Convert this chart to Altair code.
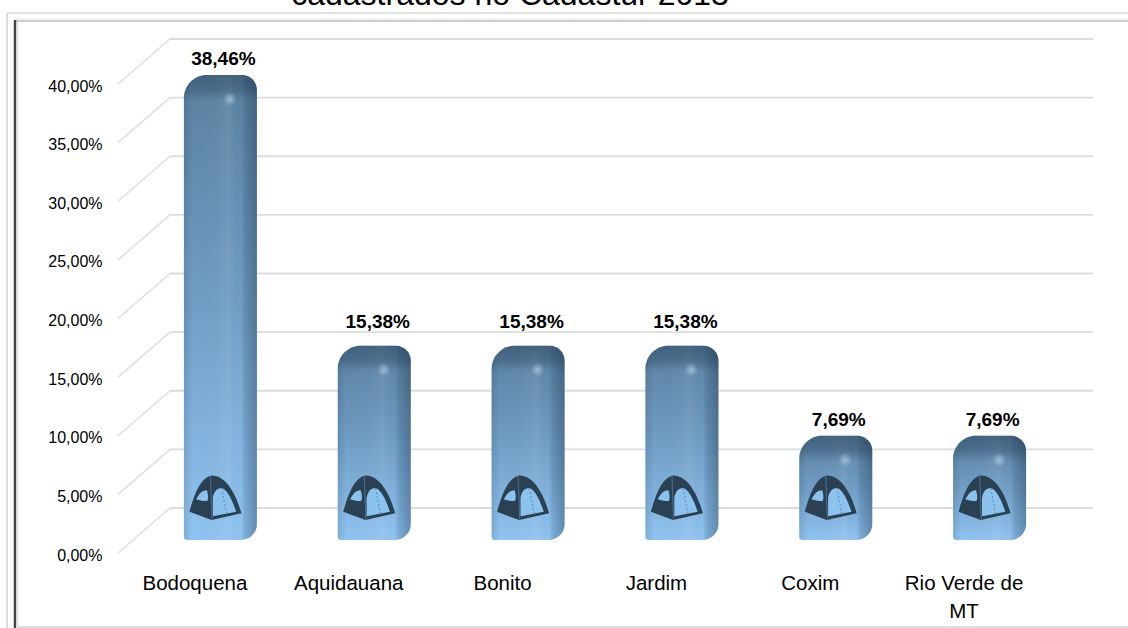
import altair as alt
import pandas as pd

# Municipalities and their share of registered campsites
cities = ["Bodoquena", "Aquidauana", "Bonito", "Jardim", "Coxim", "Rio Verde de MT"]
shares = [38.46, 15.38, 15.38, 15.38, 7.69, 7.69]
ticks = [0, 5, 10, 15, 20, 25, 30, 35, 40]
title_text = "cadastrados no Cadastur 2013"

W, H = 1128, 628
FONT = "Liberation Sans"

bars = pd.DataFrame({"city": cities, "pct": shares, "base": [0] * len(cities)})
grid = pd.DataFrame({"tick": ticks})

x_enc = alt.X(
    "city:N",
    sort=cities,
    scale=alt.Scale(type="band", domain=cities, range=[118, 1041], padding=0),
    axis=alt.Axis(
        title=None, orient="bottom", offset=-55, labelAngle=0, domain=False, ticks=False,
        labelFont=FONT, labelFontSize=20.5, labelColor="#000000", labelPadding=0,
        labelBaseline="top", labelAlign="center", labelLimit=200, labelLineHeight=28,
        labelExpr="datum.value == 'Rio Verde de MT' ? ['Rio Verde de', 'MT'] : datum.label",
    ),
)
y_scale = alt.Scale(domain=[0, 40], range=[553, 84], nice=False, zero=False)
y_axis = alt.Axis(
    title=None, values=ticks, orient="left", offset=-102, domain=False, ticks=False,
    grid=False, labelFont=FONT, labelFontSize=16, labelColor="#000000", labelPadding=0,
    labelOffset=2, labelFlush=False, labelOverlap=False,
    labelExpr="replace(format(datum.value, '.2f'), '.', ',') + '%'",
)
y_plain = alt.Y("pct:Q", scale=y_scale, title=None)


def vgrad(stops):
    return alt.LinearGradient(
        gradient="linear", x1=0, x2=0, y1=0, y2=1,
        stops=[alt.GradientStop(offset=o, color=c) for o, c in stops],
    )


def hgrad(stops):
    return alt.LinearGradient(
        gradient="linear", x1=0, x2=1, y1=0, y2=0,
        stops=[alt.GradientStop(offset=o, color=c) for o, c in stops],
    )


def rule(x, x2, y, y2, color, width):
    return alt.Chart(pd.DataFrame({"k": [0]})).mark_rule(color=color, strokeWidth=width).encode(
        x=alt.value(x), x2=alt.value(x2), y=alt.value(y), y2=alt.value(y2)
    )


# Panel frame
frame = [
    rule(7, W, 13, 13, "#e2e2e2", 2),
    rule(7, 7, 13, H, "#dcdcdc", 2),
    rule(16, W, 19, 19, "#e4e4e4", 1),
    rule(16, W, 21, 21, "#bdbdbd", 1.5),
    rule(15, 15, 20, H, "#444444", 2.5),
    rule(18, 18, 22, H, "#d8d8d8", 1),
    rule(16, W, 627, 627, "#dedede", 2),
]

# Back wall grid lines (these also carry the percentage axis) and the diagonals to the axis plane
wall = alt.Chart(grid).mark_rule(color="#dcdcdc", strokeWidth=1.8, yOffset=-45, y2Offset=-45).encode(
    x=alt.value(170), x2=alt.value(1093),
    y=alt.Y("tick:Q", scale=y_scale, axis=y_axis),
    y2=alt.Y2("tick:Q"),
)
diagonals = alt.Chart(grid).mark_rule(color="#dedede", strokeWidth=1.4, y2Offset=-45).encode(
    x=alt.value(118), x2=alt.value(170),
    y=alt.Y("tick:Q", scale=y_scale),
    y2=alt.Y2("tick:Q"),
)

base = alt.Chart(bars)
corners = dict(
    cornerRadiusTopLeft=23, cornerRadiusTopRight=15,
    cornerRadiusBottomLeft=3, cornerRadiusBottomRight=16,
)
bar_shape = dict(size=73, xOffset=25.5, yOffset=-27, y2Offset=-13, **corners)

# Bar body with the vertical colour ramp
body = base.mark_bar(
    color=vgrad([(0, "#5a7f9e"), (0.5, "#719ec6"), (1, "#90c4f1")]), **bar_shape
).encode(x=x_enc, y=y_plain, y2=alt.Y2("base:Q"))

# Side-to-side shading: darker left rim, lit centre, dark right flank
body_shade = base.mark_bar(
    color=hgrad([
        (0, "rgba(20,45,70,0.14)"), (0.12, "rgba(20,45,70,0)"),
        (0.62, "rgba(255,255,255,0.06)"), (0.78, "rgba(20,45,70,0)"),
        (0.84, "rgba(20,45,70,0.16)"), (1, "rgba(20,45,70,0.36)"),
    ]),
    **bar_shape,
).encode(x=x_enc, y=y_plain, y2=alt.Y2("base:Q"))

# Darker cap fading into the face, of constant pixel height
cap = base.mark_bar(
    size=73, xOffset=25.5, yOffset=-27, y2Offset=20,
    cornerRadiusTopLeft=23, cornerRadiusTopRight=15,
    color=vgrad([(0, "rgba(30,55,80,0.42)"), (0.3, "rgba(30,55,80,0.3)"), (0.55, "rgba(30,55,80,0)"), (1, "rgba(30,55,80,0)")]),
).encode(x=x_enc, y=y_plain, y2=alt.Y2("pct:Q"))

# Small highlight on the upper right shoulder
glow = base.mark_point(
    shape="circle", size=200, filled=True, opacity=1, xOffset=35, yOffset=-3, strokeWidth=0,
    color=alt.RadialGradient(
        gradient="radial",
        stops=[
            alt.GradientStop(offset=0, color="rgba(190,220,245,0.6)"),
            alt.GradientStop(offset=1, color="rgba(190,220,245,0)"),
        ],
    ),
).encode(x=x_enc, y=y_plain)

# Tent pictogram at the foot of each bar
tent_outline = "M-0.19,-0.86 C0.25,-0.9 0.7,-0.45 1,0.59 L-0.15,0.85 L-1,0.53 C-0.85,-0.05 -0.6,-0.75 -0.19,-0.86 Z"
tent_door = "M-0.1,0.7 L-0.1,0 C-0.07,-0.22 0.05,-0.38 0.24,-0.38 C0.48,-0.3 0.64,0.1 0.8,0.53 Z"
tent_window = "M-0.74,0.05 C-0.62,-0.18 -0.5,-0.3 -0.33,-0.3 C-0.26,-0.1 -0.28,0.07 -0.32,0.12 C-0.45,0.12 -0.6,0.1 -0.74,0.05 Z"
tent_seam = "M-0.19,-0.86 L-0.13,0.82"
tent_pole = "M0.24,-0.38 L0.42,0.58"


def tent_part(path, color):
    return base.mark_point(
        shape=path, size=2704, filled=True, opacity=1, color=color, strokeWidth=0, xOffset=20.5
    ).encode(x=x_enc, y=alt.value(498))


def tent_line(path, color, dash):
    return base.mark_point(
        shape=path, size=2704, filled=False, opacity=1, stroke=color, strokeWidth=1,
        strokeDash=dash, xOffset=20.5,
    ).encode(x=x_enc, y=alt.value(498))


tent = [
    tent_part(tent_outline, "#2a4154"),
    tent_part(tent_door, "#8cc3ee"),
    tent_part(tent_window, "#8cc3ee"),
    tent_line(tent_seam, "#5a7a95", [1, 0]),
    tent_line(tent_pole, "#5b8ab2", [2, 2]),
]

# Value labels above the bars
label_base = base.transform_calculate(
    label="replace(format(datum.pct, '.2f'), '.', ',') + '%'"
)


def value_labels(test, lift, shift):
    return label_base.transform_filter(test).mark_text(
        font=FONT, fontSize=19, fontWeight="bold", color="#000000",
        baseline="middle", align="center", xOffset=shift, yOffset=lift,
    ).encode(x=x_enc, y=y_plain, text="label:N")


labels = [
    value_labels("datum.pct != 15.38", -43, 28.5),
    value_labels("datum.pct == 15.38", -51, 29),
]

title_mark = alt.Chart(pd.DataFrame({"t": [title_text]})).mark_text(
    font=FONT, fontSize=32, color="#000000", align="center", baseline="alphabetic"
).encode(x=alt.value(510), y=alt.value(5), text="t:N")

chart = alt.layer(
    *frame, wall, diagonals, body, body_shade, cap, glow, *tent, *labels, title_mark
).resolve_scale(x="shared", y="shared").properties(
    width=W, height=H, padding=0, background="#ffffff",
    autosize=alt.AutoSizeParams(type="none"),
).configure_view(stroke=None)

chart.save("out.html", embed_options={"renderer": "svg", "actions": False})
